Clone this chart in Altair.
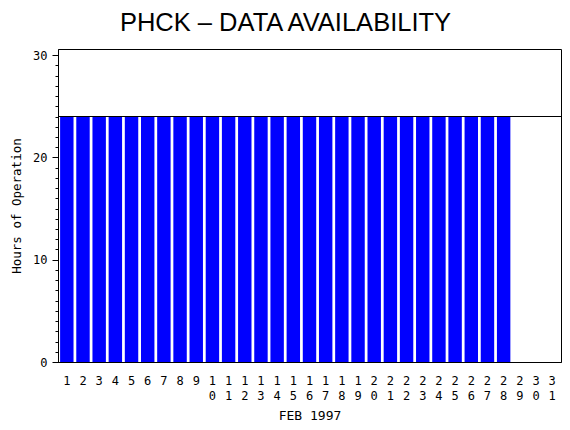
import altair as alt
import pandas as pd

days = ["1", "2", "3", "4", "5", "6", "7", "8", "9", "10", "11", "12", "13", "14", "15", "16",
        "17", "18", "19", "20", "21", "22", "23", "24", "25", "26", "27", "28", "29", "30", "31"]
hours = [24, 24, 24, 24, 24, 24, 24, 24, 24, 24, 24, 24, 24, 24, 24, 24,
         24, 24, 24, 24, 24, 24, 24, 24, 24, 24, 24, 24, None, None, None]
major_ticks = [0, 10, 20, 30]
minor_ticks = list(range(0, 31))
full_day = 24

df = pd.DataFrame({"day": days, "hours": hours})

mono = "DejaVu Sans Mono"
ydomain = [0, 30.6]

bars = alt.Chart(df).mark_bar(color="#0000FF").encode(
    x=alt.X("day:O", scale=alt.Scale(domain=days, paddingInner=0.17, paddingOuter=0.13),
            axis=alt.Axis(title="FEB 1997", labelAngle=0, labelExpr="split(datum.label, '')",
                          labelLineHeight=15, ticks=False, labelPadding=13,
                          labelFont=mono, labelFontSize=12, labelColor="black",
                          titleFont=mono, titleFontSize=13, titleFontWeight="normal",
                          titleColor="black", titlePadding=8,
                          domainColor="black")),
    y=alt.Y("hours:Q", scale=alt.Scale(domain=ydomain, nice=False, zero=False),
            axis=alt.Axis(values=major_ticks, tickSize=6, grid=False, title="Hours of Operation",
                          labelFont=mono, labelFontSize=12, labelColor="black", labelPadding=5,
                          titleFont=mono, titleFontSize=12.5, titleFontWeight="normal",
                          titleColor="black", titleX=-35,
                          domainColor="black", tickColor="black", orient="left")),
)

rule = alt.Chart(df).mark_rule(color="black", strokeWidth=1.2).encode(
    y=alt.Y(datum=full_day, scale=alt.Scale(domain=ydomain, nice=False, zero=False),
            axis=alt.Axis(values=minor_ticks, tickSize=3, labels=False, title=None, grid=False,
                          domain=False, tickColor="black", orient="left")),
)

chart = alt.layer(bars, rule).resolve_scale(y="independent").resolve_axis(y="independent").properties(
    width=503, height=313,
    autosize=alt.AutoSizeParams(type="none"),
    padding={"left": 50, "top": 41, "right": 1, "bottom": 62},
    title=alt.TitleParams("PHCK – DATA AVAILABILITY", font="Liberation Sans", fontSize=25.5,
                          fontWeight="normal", color="black", anchor="middle", dx=-24, offset=13),
).configure_view(stroke="black", strokeWidth=1)

chart.save("out.html", embed_options={"renderer": "svg", "actions": False})
